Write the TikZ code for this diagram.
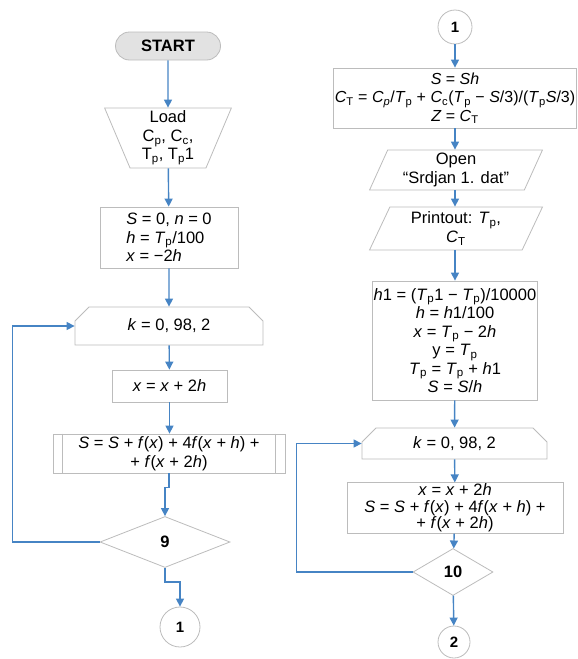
\documentclass[tikz,border=0pt]{standalone}
\usepackage{fontspec}
\setmainfont{Liberation Sans}
\usepackage{tikz}
\usetikzlibrary{arrows.meta,shapes.geometric,shapes.misc}
\definecolor{flowblue}{RGB}{70,132,196}
\definecolor{edgegray}{RGB}{188,188,188}
\definecolor{termgray}{RGB}{226,226,226}
\def\idx#1{\textsubscript{#1}}
\def\var#1{\textit{#1}}
\tikzset{
	frame/.style={draw=edgegray, line width=0.8pt, fill=white, inner sep=1pt, align=center, font=\fontsize{16.5}{18.5}\selectfont},
	flow/.style={draw=flowblue, line width=1.4pt, -{Triangle[length=8pt,width=8pt]}},
	proc/.style={frame, rectangle},
	term/.style={frame, rounded rectangle, fill=termgray, font=\fontsize{16.5}{18.5}\selectfont\bfseries},
	manual/.style={frame, trapezium, shape border rotate=180, trapezium left angle=72, trapezium right angle=72, trapezium stretches=true},
	iobox/.style={frame, trapezium, trapezium left angle=68, trapezium right angle=112, trapezium stretches=true},
	loopbox/.style={frame, chamfered rectangle, chamfered rectangle corners={north west,north east}, chamfered rectangle xsep=7pt, chamfered rectangle ysep=7pt},
	decision/.style={frame, diamond, font=\fontsize{16.5}{18.5}\selectfont\bfseries},
	conn/.style={frame, circle, font=\fontsize{15}{17}\selectfont\bfseries}
}

\begin{document}
\begin{tikzpicture}[x=1pt,y=-1pt]
			%%%%% START %%%%%
			\useasboundingbox (0,0) rectangle (578,659);
			
			% left column
			\node[term, minimum width=107, minimum height=28] (start) at (168,46) {START};
			\node[manual, minimum width=127, minimum height=60] (load) at (168,138) {Load\\C\idx{p}, C\idx{c},\\T\idx{p}, T\idx{p}1};
			\node[proc, minimum width=138, minimum height=61, align=left] (init) at (169,237.5) {\var{S} = 0, \var{n} = 0\\\var{h} = \var{T}\idx{p}/100\\\var{x} = −2\var{h}};
			\node[loopbox, minimum width=188, minimum height=38] (loopa) at (169,326) {\var{k} = 0, 98, 2};
			\node[proc, minimum width=115, minimum height=32] (stepa) at (169.5,386) {\var{x} = \var{x} + 2\var{h}};
			\node[proc, minimum width=232, minimum height=39] (suma) at (169,453.5) {\var{S} = \var{S} + \var{f}(\var{x}) + 4\var{f}(\var{x} + \var{h}) +\\+ \var{f}(\var{x} + 2\var{h})};
			\draw[edgegray, line width=0.8pt] ([xshift=10pt]suma.north west) -- ([xshift=10pt]suma.south west);
			\draw[edgegray, line width=0.8pt] ([xshift=-10pt]suma.north east) -- ([xshift=-10pt]suma.south east);
			\node[decision, minimum width=130, minimum height=51] (deca) at (165,542) {9};
			\node[conn, minimum size=40] (outa) at (180,627) {1};
			
			\draw[flow] (start) -- (load);
			\draw[flow] (load) -- (init);
			\draw[flow] (init) -- (loopa);
			\draw[flow] (loopa) -- (stepa);
			\draw[flow] (stepa) -- (suma.north -| stepa);
			\draw[flow] (suma.south) -- ++(0,14) -| (deca.north);
			\draw[flow] (deca.south) -- ++(0,14) -| (outa.north);
			\draw[flow] (deca.west) -- ++(-87,0) |- (loopa.west);
			
			% right column
			\node[conn, minimum size=34] (inb) at (455,27) {1};
			\node[proc, minimum width=234, minimum height=60, font=\fontsize{16}{18.5}\selectfont] (calc) at (455,98) {\var{S} = \var{Sh}\\\var{C}\idx{T} = \var{C}\idx{\var{p}}/\var{T}\idx{p} + \var{C}\idx{c}(\var{T}\idx{p} − \var{S}/3)/(\var{T}\idx{p}\var{S}/3)\\\var{Z} = \var{C}\idx{T}};
			\node[iobox, minimum width=173, minimum height=40] (open) at (456,170) {Open\\“Srdjan 1. dat”};
			\node[iobox, minimum width=173, minimum height=43] (print) at (456,228.5) {Printout: \var{T}\idx{p},\\\var{C}\idx{T}};
			\node[proc, minimum width=164, minimum height=119] (hbox) at (455,340.5) {\var{h}1 = (\var{T}\idx{p}1 − \var{T}\idx{p})/10000\\\var{h} = \var{h}1/100\\\var{x} = \var{T}\idx{p} − 2\var{h}\\y = \var{T}\idx{p}\\\var{T}\idx{p} = \var{T}\idx{p} + \var{h}1\\\var{S} = \var{S}/\var{h}};
			\node[loopbox, minimum width=185, minimum height=31] (loopb) at (454.5,443.5) {\var{k} = 0, 98, 2};
			\node[proc, minimum width=216, minimum height=50, font=\fontsize{16.5}{16.5}\selectfont] (sumb) at (455,508) {\var{x} = \var{x} + 2\var{h}\\\var{S} = \var{S} + \var{f}(\var{x}) + 4\var{f}(\var{x} + \var{h}) +\\+ \var{f}(\var{x} + 2\var{h})};
			\node[decision, minimum width=80, minimum height=47] (decb) at (453,572) {10};
			\node[conn, minimum size=32] (outb) at (454,642) {2};
			
			\draw[flow] (inb) -- (calc);
			\draw[flow] (calc) -- (open.north -| calc);
			\draw[flow] (open.south -| calc) -- (print.north -| calc);
			\draw[flow] (print.south -| calc) -- (hbox);
			\draw[flow] (hbox) -- (loopb);
			\draw[flow] (loopb) -- (sumb);
			\draw[flow] (sumb) -- (decb);
			\draw[flow] (decb) -- (outb);
			\draw[flow] (decb.west) -- ++(-116,0) |- (loopb.west);
			
			%%%%% END %%%%%
\end{tikzpicture}
\end{document}
